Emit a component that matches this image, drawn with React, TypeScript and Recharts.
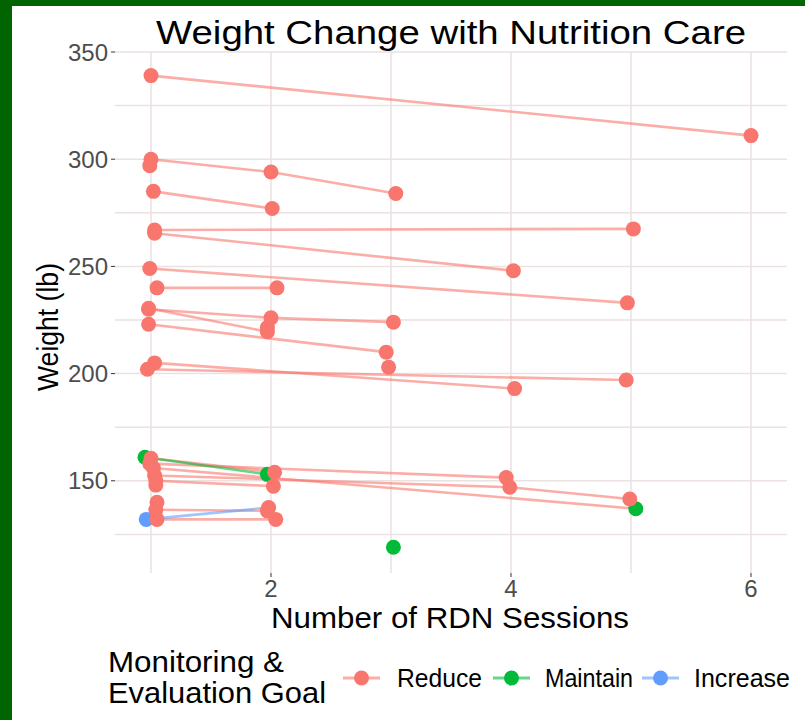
import { CartesianGrid, ComposedChart, Scatter, XAxis, YAxis } from "recharts";

type Visit = [number, number, string];

const goals = ["Reduce", "Maintain", "Increase"];
const xTicks = [2, 4, 6];
const yTicks = [150, 200, 250, 300, 350];
const xGridValues = [1, 2, 3, 4, 5, 6];
const yGridValues = [125, 150, 175, 200, 225, 250, 275, 300, 325, 350];

// each patient: [session (jittered), weight, goal at that visit]
const reducePatients: Visit[][] = [
  [[1.0, 339, "Reduce"], [6.0, 311, "Reduce"]],
  [[1.0, 300, "Reduce"], [2.0, 294, "Reduce"], [3.04, 284, "Reduce"]],
  [[0.99, 297, "Reduce"]],
  [[1.02, 285, "Reduce"], [2.01, 277, "Reduce"]],
  [[1.03, 267, "Reduce"], [5.02, 267.5, "Reduce"]],
  [[1.03, 265.5, "Reduce"], [4.02, 248, "Reduce"]],
  [[0.99, 249, "Reduce"], [4.97, 233, "Reduce"]],
  [[1.05, 240, "Reduce"], [2.05, 240, "Reduce"]],
  [[0.98, 230, "Reduce"], [2.0, 226, "Reduce"], [3.02, 224, "Reduce"]],
  [[0.98, 230.5, "Reduce"], [1.97, 219.5, "Reduce"]],
  [[0.98, 223, "Reduce"], [2.96, 210, "Reduce"]],
  [[1.97, 221.5, "Reduce"]],
  [[2.98, 203, "Reduce"]],
  [[0.97, 202, "Reduce"], [4.96, 197, "Reduce"]],
  [[1.03, 205, "Reduce"], [4.03, 193, "Reduce"]],
  [[1.0, 160.5, "Reduce"], [2.03, 154, "Reduce"]],
  [[0.99, 158, "Reduce"], [3.96, 151.5, "Reduce"]],
  [[1.03, 152.5, "Reduce"], [3.99, 147, "Reduce"], [4.99, 141.5, "Reduce"]],
  [[1.02, 156, "Reduce"], [5.04, 137, "Maintain"]],
  [[1.04, 150, "Reduce"], [2.02, 147.5, "Reduce"]],
  [[1.04, 148, "Reduce"]],
  [[1.05, 140, "Reduce"]],
  [[1.04, 136.5, "Reduce"], [1.97, 136, "Reduce"]],
  [[1.05, 132, "Reduce"], [2.04, 132, "Reduce"]],
];

const maintainPatients: Visit[][] = [
  [[0.95, 161, "Maintain"], [1.97, 153, "Maintain"]],
  [[3.02, 119, "Maintain"]],
];

const increasePatients: Visit[][] = [
  [[0.96, 132, "Increase"], [1.98, 137.5, "Reduce"]],
];

const colors: Record<string, string> = {
  Reduce: "#F8766D",
  Maintain: "#00BA38",
  Increase: "#619CFF",
};

const font = "'Liberation Sans', Arial, sans-serif";

const allPatients = [...reducePatients, ...maintainPatients, ...increasePatients];

const toPoints = (visits: Visit[]) => visits.map(([x, y, goal]) => ({ x, y, goal }));

const hidden = () => <g />;

const dot = (color: string) => (p: any) => <circle cx={p.cx} cy={p.cy} r={7.5} fill={color} />;

function Overlay() {
  const keys = [
    { goal: "Reduce", x: 343, tx: 397, len: 85 },
    { goal: "Maintain", x: 493, tx: 545, len: 88 },
    { goal: "Increase", x: 642, tx: 694, len: 96 },
  ];
  return (
    <svg width={805} height={720} style={{ position: "absolute", left: 0, top: 0, pointerEvents: "none" }} fontFamily={font}>
      <text x={451} y={44} textAnchor="middle" fontSize={34} fill="#000" textLength={590} lengthAdjust="spacingAndGlyphs">
        Weight Change with Nutrition Care
      </text>
      <text x={450} y={628} textAnchor="middle" fontSize={30} fill="#000" textLength={358} lengthAdjust="spacingAndGlyphs">
        Number of RDN Sessions
      </text>
      <text transform="translate(58,327) rotate(-90)" textAnchor="middle" fontSize={29} fill="#000" textLength={128} lengthAdjust="spacingAndGlyphs">
        Weight (lb)
      </text>
      <text x={108} y={672} fontSize={29} fill="#000" textLength={176} lengthAdjust="spacingAndGlyphs">
        Monitoring &amp;
      </text>
      <text x={108} y={703} fontSize={29} fill="#000" textLength={218} lengthAdjust="spacingAndGlyphs">
        Evaluation Goal
      </text>
      {keys.map((k) => (
        <g key={k.goal}>
          <line x1={k.x} x2={k.x + 37} y1={678} y2={678} stroke={colors[k.goal]} strokeOpacity={0.6} strokeWidth={2.8} />
          <circle cx={k.x + 18.5} cy={678} r={7.5} fill={colors[k.goal]} />
          <text x={k.tx} y={687} fontSize={25} fill="#000" textLength={k.len} lengthAdjust="spacingAndGlyphs">
            {k.goal}
          </text>
        </g>
      ))}
    </svg>
  );
}

export default function App() {
  const tickStyle = { fill: "#4d4d4d", fontSize: 24, fontFamily: font };
  return (
    <div style={{ position: "absolute", left: 0, top: 0, width: 805, height: 720, background: "#006400" }}>
      <div style={{ position: "absolute", left: 12, top: 6, width: 793, height: 714, background: "#fff" }} />
      <div style={{ position: "absolute", left: 0, top: 0 }}>
        <ComposedChart width={805} height={720} margin={{ top: 52, right: 18, bottom: 117, left: 55 }}>
          <CartesianGrid stroke="#ebe1e1" strokeWidth={1.5} horizontalValues={yGridValues} verticalValues={xGridValues} />
          <XAxis
            type="number"
            dataKey="x"
            domain={[0.7, 6.3]}
            ticks={xTicks}
            allowDataOverflow
            axisLine={false}
            tickLine={{ stroke: "#333" }}
            tickSize={4}
            tickMargin={3}
            height={30}
            tick={tickStyle}
          />
          <YAxis
            type="number"
            dataKey="y"
            domain={[107, 350]}
            ticks={yTicks}
            allowDataOverflow
            axisLine={false}
            tickLine={{ stroke: "#333" }}
            tickSize={4}
            tickMargin={3}
            width={60}
            tick={tickStyle}
          />
          {allPatients
            .filter((p) => p.length > 1)
            .map((p, i) => (
              <Scatter
                key={`line-${i}`}
                data={toPoints(p)}
                fill={colors[p[0][2]]}
                line={{ stroke: colors[p[0][2]], strokeOpacity: 0.6, strokeWidth: 2.6 }}
                lineType="joint"
                shape={hidden}
                isAnimationActive={false}
              />
            ))}
          {[...goals].reverse().map((goal) => (
            <Scatter
              key={goal}
              data={allPatients.flatMap(toPoints).filter((v) => v.goal === goal)}
              fill={colors[goal]}
              shape={dot(colors[goal])}
              isAnimationActive={false}
            />
          ))}
        </ComposedChart>
      </div>
      <Overlay />
    </div>
  );
}
